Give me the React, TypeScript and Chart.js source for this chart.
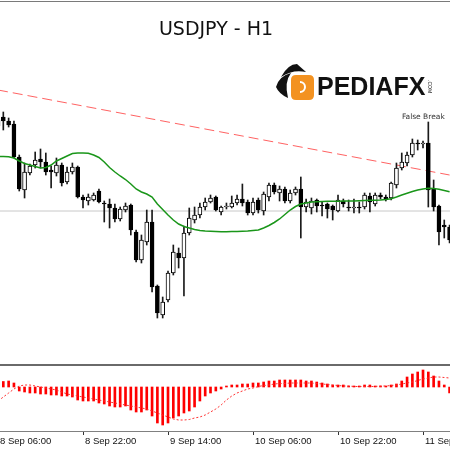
import { useEffect, useRef } from 'react';
import { Chart, registerables } from 'chart.js';

Chart.register(...registerables);

// ---- data (USDJPY H1, one entry per candle, candle 0 = 8 Sep 06:00) ----
const opens = [108.80, 108.83, 108.79, 108.76, 108.43, 108.10, 108.27, 108.35, 108.41, 108.38,
  108.30, 108.27, 108.35, 108.18, 108.28, 108.33, 108.03, 107.99, 108.00, 108.09,
  107.97, 107.96, 107.92, 107.81, 107.90, 107.95, 107.68, 107.40, 107.58, 107.78,
  107.14, 106.85, 107.00, 107.27, 107.47, 107.42, 107.67, 107.80, 107.85, 107.93,
  107.98, 108.03, 107.88, 107.93, 107.93, 107.97, 108.01, 107.98, 107.87, 108.00,
  107.89, 108.03, 108.15, 108.07, 108.11, 107.99, 108.07, 108.11, 107.93, 107.92,
  108.00, 107.95, 107.96, 107.94, 107.89, 107.99, 107.93, 107.92, 107.93, 107.93,
  108.04, 107.96, 108.05, 108.03, 108.02, 108.15, 108.32, 108.37, 108.45, 108.57,
  108.56, 108.57, 108.11, 107.94, 107.75, 107.73];
const highs = [108.85, 108.88, 108.82, 108.79, 108.45, 108.37, 108.36, 108.48, 108.51, 108.47,
  108.34, 108.42, 108.37, 108.33, 108.37, 108.34, 108.05, 108.06, 108.07, 108.11,
  107.99, 108.01, 107.96, 107.93, 107.97, 107.96, 107.70, 107.65, 107.90, 107.90,
  107.15, 107.03, 107.29, 107.55, 107.52, 107.74, 107.92, 107.93, 107.97, 108.02,
  108.05, 108.04, 107.94, 107.97, 108.04, 108.05, 108.16, 108.00, 108.02, 108.02,
  108.08, 108.17, 108.17, 108.14, 108.13, 108.10, 108.13, 108.23, 108.01, 108.02,
  108.01, 107.98, 107.97, 107.95, 108.05, 108.01, 108.00, 108.01, 107.98, 108.07,
  108.07, 108.07, 108.07, 108.05, 108.18, 108.37, 108.47, 108.48, 108.61, 108.60,
  108.59, 108.78, 108.20, 107.95, 107.80, 107.75];
const lows = [108.68, 108.70, 108.73, 108.42, 108.09, 108.02, 108.25, 108.32, 108.32, 108.25,
  108.12, 108.24, 108.14, 108.16, 108.26, 108.02, 107.92, 107.95, 107.99, 107.97,
  107.78, 107.72, 107.78, 107.79, 107.88, 107.65, 107.38, 107.37, 107.55, 107.08,
  106.82, 106.82, 106.98, 107.25, 107.32, 107.04, 107.65, 107.77, 107.82, 107.90,
  107.97, 107.89, 107.85, 107.91, 107.92, 107.95, 107.94, 107.85, 107.85, 107.87,
  107.85, 107.99, 108.06, 107.99, 107.97, 107.97, 108.05, 107.62, 107.88, 107.86,
  107.88, 107.84, 107.82, 107.80, 107.88, 107.93, 107.89, 107.87, 107.87, 107.91,
  107.88, 107.94, 108.01, 107.99, 108.00, 108.12, 108.30, 108.34, 108.43, 108.50,
  108.52, 107.93, 107.89, 107.55, 107.62, 107.57];
const closes = [108.74, 108.79, 108.75, 108.43, 108.11, 108.28, 108.34, 108.40, 108.38, 108.28,
  108.28, 108.35, 108.17, 108.28, 108.33, 108.03, 108.00, 108.03, 108.05, 107.98,
  107.96, 107.92, 107.81, 107.91, 107.94, 107.70, 107.40, 107.60, 107.78, 107.13,
  106.87, 106.98, 107.27, 107.48, 107.42, 107.67, 107.82, 107.85, 107.93, 107.98,
  108.02, 107.90, 107.93, 107.94, 107.97, 108.01, 107.97, 107.87, 107.98, 107.90,
  108.06, 108.15, 108.08, 108.11, 107.99, 108.07, 108.11, 107.93, 107.98, 107.99,
  107.94, 107.94, 107.91, 107.90, 108.00, 107.96, 107.92, 107.93, 107.92, 108.05,
  107.98, 108.05, 108.03, 108.01, 108.17, 108.32, 108.38, 108.45, 108.57, 108.56,
  108.57, 108.10, 107.93, 107.68, 107.73, 107.60];
const maValues = [108.435, 108.435, 108.433, 108.42, 108.39, 108.365, 108.35, 108.335, 108.32, 108.325,
  108.35, 108.39, 108.415, 108.44, 108.465, 108.47, 108.47, 108.467, 108.45, 108.425,
  108.38, 108.325, 108.28, 108.24, 108.205, 108.16, 108.11, 108.08, 108.06, 108.03,
  107.96, 107.905, 107.85, 107.80, 107.76, 107.735, 107.72, 107.705, 107.695, 107.69,
  107.687, 107.685, 107.683, 107.683, 107.685, 107.685, 107.687, 107.69, 107.695, 107.70,
  107.72, 107.745, 107.775, 107.81, 107.855, 107.90, 107.935, 107.96, 107.97, 107.98,
  107.983, 107.985, 107.987, 107.987, 107.988, 107.99, 107.99, 107.99, 107.992, 107.995,
  107.997, 107.998, 108.00, 108.005, 108.012, 108.03, 108.05, 108.067, 108.085, 108.10,
  108.11, 108.117, 108.115, 108.107, 108.095, 108.083];
const macdValues = [0.010, 0.011, 0.012, 0.008, -0.008, -0.010, -0.012, -0.012, -0.014, -0.014,
  -0.016, -0.016, -0.018, -0.018, -0.020, -0.026, -0.028, -0.028, -0.028, -0.032,
  -0.034, -0.038, -0.040, -0.040, -0.038, -0.046, -0.050, -0.050, -0.046, -0.058,
  -0.072, -0.076, -0.072, -0.062, -0.058, -0.052, -0.048, -0.040, -0.028, -0.018,
  -0.012, -0.008, -0.004, 0.002, 0.004, 0.004, 0.006, 0.006, 0.008, 0.008,
  0.010, 0.012, 0.012, 0.014, 0.014, 0.014, 0.014, 0.014, 0.012, 0.012,
  0.010, 0.008, 0.006, 0.004, 0.004, 0.004, 0.002, 0.002, 0.002, 0.004,
  0.004, 0.002, 0.002, 0.002, 0.004, 0.006, 0.012, 0.020, 0.026, 0.030,
  0.034, 0.030, 0.022, 0.012, 0.004, -0.012];
const signalValues = [-0.028, -0.020, -0.012, -0.004, 0.002, 0.004, 0.004, 0.002, 0.000, -0.002,
  -0.004, -0.006, -0.010, -0.014, -0.016, -0.018, -0.020, -0.022, -0.024, -0.026,
  -0.028, -0.030, -0.032, -0.034, -0.036, -0.038, -0.040, -0.042, -0.044, -0.048,
  -0.052, -0.056, -0.060, -0.064, -0.066, -0.066, -0.065, -0.062, -0.060, -0.056,
  -0.050, -0.044, -0.036, -0.026, -0.018, -0.012, -0.008, -0.004, -0.002, 0.001,
  0.003, 0.004, 0.006, 0.007, 0.007, 0.008, 0.008, 0.008, 0.008, 0.008,
  0.007, 0.006, 0.005, 0.004, 0.003, 0.002, 0.002, 0.001, 0.001, 0.001,
  0.001, 0.001, 0.002, 0.002, 0.003, 0.004, 0.006, 0.008, 0.010, 0.013,
  0.016, 0.018, 0.020, 0.020, 0.019, 0.018];
const tickLabels = ['8 Sep 06:00', '8 Sep 22:00', '9 Sep 14:00', '10 Sep 06:00', '10 Sep 22:00', '11 Sep 14:00'];
const tickCandles = [0, 16, 32, 48, 64, 80];
const trendCandles = [0, 85];
const trendPrices = [109.10, 108.25];
const levelPrice = 107.89;
const falseBreakCandle = 81;
const titleText = 'USDJPY - H1';
const brandText = 'PEDIAFX';

// ---- layout ----
const W = 450;
const MAIN_H = 365;
const MACD_H = 85;
const X_MIN = 0.376;
const X_MAX = 85.08;

const xScale = { type: 'linear', min: X_MIN, max: X_MAX, display: false, offset: false, grid: { display: false } };

export default function App() {
  const mainRef = useRef<HTMLCanvasElement>(null);
  const macdRef = useRef<HTMLCanvasElement>(null);

  useEffect(() => {
    const idx = opens.map((_, i) => i);
    const bodies = idx.map(i => ({ x: i, y: [opens[i], closes[i]] }));
    const wicks = idx.map(i => ({ x: i, y: [lows[i], highs[i]] }));
    const bodyFill = idx.map(i => (closes[i] >= opens[i] ? '#ffffff' : '#000000'));
    const ma = idx.map(i => ({ x: i, y: maValues[i] }));
    const trend = trendCandles.map((c, i) => ({ x: c, y: trendPrices[i] }));
    const level = [{ x: -1, y: levelPrice }, { x: idx.length, y: levelPrice }];

    const mainDecor = {
      id: 'mainDecor',
      afterDraw(chart: any) {
        const ctx = chart.ctx as CanvasRenderingContext2D;
        const xs = chart.scales.x;
        const ys = chart.scales.y;
        ctx.save();
        ctx.fillStyle = '#7a7a7a';
        ctx.fillRect(0, 1, W, 1);
        ctx.fillStyle = '#6a6a6a';
        ctx.fillRect(0, 364, W, 1);
        // title
        ctx.fillStyle = '#111111';
        ctx.font = '19px "DejaVu Sans"';
        ctx.textAlign = 'center';
        ctx.textBaseline = 'middle';
        ctx.fillText(titleText, 216, 30);
        // logo icon
        ctx.fillStyle = '#f39221';
        ctx.beginPath();
        ctx.moveTo(296, 75);
        ctx.lineTo(309, 75);
        ctx.quadraticCurveTo(314, 75, 314, 80);
        ctx.lineTo(314, 95);
        ctx.quadraticCurveTo(314, 100, 309, 100);
        ctx.lineTo(296, 100);
        ctx.quadraticCurveTo(291, 100, 291, 95);
        ctx.lineTo(291, 80);
        ctx.quadraticCurveTo(291, 75, 296, 75);
        ctx.fill();
        ctx.strokeStyle = '#ffffff';
        ctx.lineWidth = 2;
        ctx.beginPath();
        ctx.arc(300, 87, 5, -Math.PI / 2, Math.PI / 2);
        ctx.stroke();
        ctx.fillStyle = '#111111';
        ctx.beginPath();
        ctx.moveTo(281, 77);
        ctx.quadraticCurveTo(288, 64, 297, 64);
        ctx.lineTo(306, 72);
        ctx.quadraticCurveTo(293, 69, 281, 77);
        ctx.fill();
        ctx.beginPath();
        ctx.moveTo(276, 87);
        ctx.quadraticCurveTo(279, 76, 291, 73);
        ctx.quadraticCurveTo(284, 82, 288, 98);
        ctx.quadraticCurveTo(279, 94, 276, 87);
        ctx.fill();
        // brand text
        ctx.font = 'bold 25px "Liberation Sans"';
        ctx.textAlign = 'left';
        ctx.textBaseline = 'alphabetic';
        ctx.fillText(brandText, 317, 95);
        ctx.save();
        ctx.translate(428, 80);
        ctx.rotate(Math.PI / 2);
        ctx.font = '5px "Liberation Sans"';
        ctx.fillText('.COM', 0, 0);
        ctx.restore();
        // annotation
        ctx.fillStyle = '#333333';
        ctx.font = '7.5px "DejaVu Sans"';
        ctx.textAlign = 'center';
        ctx.textBaseline = 'middle';
        ctx.fillText('False Break', xs.getPixelForValue(falseBreakCandle) - 5, ys.getPixelForValue(highs[falseBreakCandle]) - 5);
        ctx.restore();
      },
    };

    const main = new Chart(mainRef.current!, {
      type: 'bar',
      data: {
        datasets: [
          { type: 'line', data: level, borderColor: '#c8c8c8', borderWidth: 1, pointRadius: 0, order: 6 } as any,
          { type: 'line', data: trend, borderColor: 'rgba(255,70,70,0.85)', borderWidth: 1, borderDash: [10, 5], pointRadius: 0, order: 5 } as any,
          { type: 'bar', data: wicks, backgroundColor: '#1a1a1a', barThickness: 1, grouped: false, order: 4 } as any,
          { type: 'bar', data: bodies, backgroundColor: bodyFill, borderColor: '#000000', borderWidth: 1, borderSkipped: false, barThickness: 4, grouped: false, order: 3 } as any,
          { type: 'line', data: ma, borderColor: '#1a961a', borderWidth: 1.5, pointRadius: 0, tension: 0, order: 1 } as any,
        ],
      },
      options: {
        animation: false,
        responsive: false,
        devicePixelRatio: 1,
        events: [],
        layout: { padding: 0 },
        scales: {
          x: xScale as any,
          y: { type: 'linear', min: 106.35, max: 110.0, display: false, beginAtZero: false },
        },
        plugins: { legend: { display: false }, tooltip: { enabled: false } },
      },
      plugins: [mainDecor],
    });

    const macdDecor = {
      id: 'macdDecor',
      afterDraw(chart: any) {
        const ctx = chart.ctx as CanvasRenderingContext2D;
        const xs = chart.scales.x;
        ctx.save();
        ctx.fillStyle = '#6a6a6a';
        ctx.fillRect(0, 0, W, 1);
        ctx.fillStyle = '#808080';
        ctx.fillRect(0, 66, W, 1);
        ctx.fillStyle = '#333333';
        ctx.font = '9.5px "Liberation Sans"';
        ctx.textAlign = 'left';
        ctx.textBaseline = 'middle';
        tickCandles.forEach((c, i) => {
          const px = Math.round(xs.getPixelForValue(c));
          ctx.fillRect(px, 67, 1, 3);
          ctx.fillStyle = '#111111';
          ctx.fillText(tickLabels[i], px + 2, 76);
          ctx.fillStyle = '#333333';
        });
        ctx.restore();
      },
    };

    const macd = new Chart(macdRef.current!, {
      type: 'bar',
      data: {
        datasets: [
          { type: 'bar', data: idx.map(i => ({ x: i, y: macdValues[i] })), backgroundColor: '#ff0000', barThickness: 2, grouped: false, order: 2 } as any,
          { type: 'line', data: idx.map(i => ({ x: i, y: signalValues[i] })), borderColor: '#ff3030', borderWidth: 1, borderDash: [2, 2], pointRadius: 0, order: 1 } as any,
        ],
      },
      options: {
        animation: false,
        responsive: false,
        devicePixelRatio: 1,
        events: [],
        layout: { padding: { left: 0, right: 0, top: 0, bottom: 18 } },
        scales: {
          x: xScale as any,
          y: { type: 'linear', min: -0.090, max: 0.044, display: false, beginAtZero: false },
        },
        plugins: { legend: { display: false }, tooltip: { enabled: false } },
      },
      plugins: [macdDecor],
    });

    return () => {
      main.destroy();
      macd.destroy();
    };
  }, []);

  return (
    <div style={{ position: 'absolute', left: 0, top: 0, width: W, height: MAIN_H + MACD_H, background: '#ffffff' }}>
      <canvas ref={mainRef} width={W} height={MAIN_H} style={{ position: 'absolute', left: 0, top: 0, display: 'block' }} />
      <canvas ref={macdRef} width={W} height={MACD_H} style={{ position: 'absolute', left: 0, top: MAIN_H, display: 'block' }} />
    </div>
  );
}
